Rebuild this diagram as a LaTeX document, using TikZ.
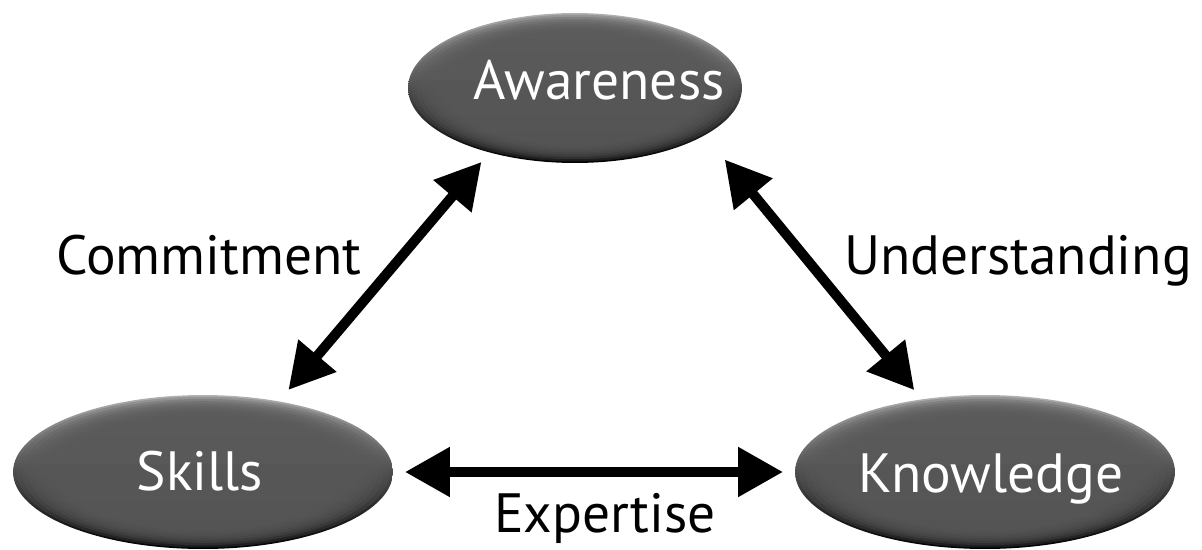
\documentclass[tikz,border=0pt]{standalone}
\usepackage{fontspec}
\setmainfont{PT Sans}
\usetikzlibrary{shapes.geometric,arrows.meta}
\definecolor{ovalmid}{gray}{0.35}
\tikzset{oval/.style 2 args={ellipse, inner sep=0pt, outer sep=0pt,
        minimum width=2*#1, minimum height=2*#2,
        top color=gray!60, bottom color=black, middle color=gray!60!black,
        path picture={\foreach \s in {0.98,0.95,0.92,0.89,0.86,0.83,0.80,0.77}
            \fill[ovalmid, fill opacity=0.3] (path picture bounding box.center)
                ellipse [x radius=\s*#1, y radius=\s*#2];}},
    word/.style={anchor=base, font=\fontsize{31.5}{36}\selectfont},
    link/.style={line width=0.2cm,
        {Triangle[length=0.9cm,width=0.95cm]}-{Triangle[length=0.9cm,width=0.95cm]}},
    }

\begin{document}
\begin{tikzpicture}[x=0.02cm,y=-0.02cm]
\useasboundingbox (0,0) rectangle (1202,550);
% the three ovals
\node[oval={3.34cm}{1.5cm}] (aw) at (575,88) {};
\node[oval={3.8cm}{1.54cm}] (sk) at (203,472) {};
\node[oval={3.8cm}{1.54cm}] (kn) at (985,472) {};
\node[word, white] (awt) at (599,100) {Awareness};
\node[word, white] (skt) at (200,490) {Skills};
\node[word, white] (knt) at (991,492) {Knowledge};
% double arrows between them
\draw[link, shorten <=0.3cm, shorten >=0.25cm] (sk.43) -- (aw.217);
\draw[link, shorten <=0.63cm, shorten >=0.24cm] (aw.340) -- (kn.131);
\draw[link, shorten <=0.24cm, shorten >=0.24cm] (sk.east) -- (kn.west);
% labels
\node[word] (cm) at (209,275) {Commitment};
\node[word] (un) at (1018,275) {Understanding};
\node[word] (ex) at (605,532) {Expertise};
\end{tikzpicture}
\end{document}
